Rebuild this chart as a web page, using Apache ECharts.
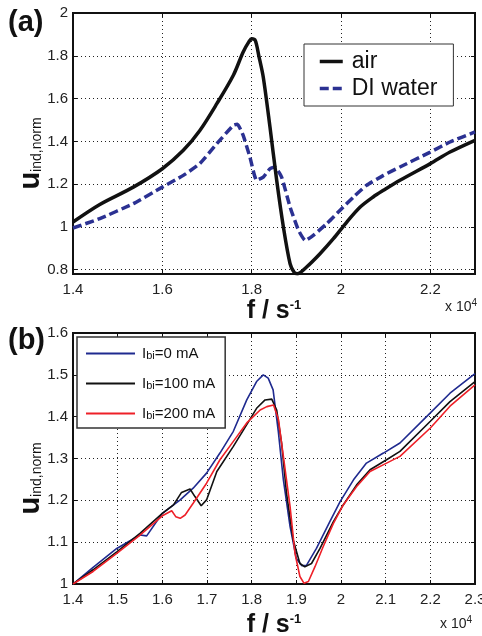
<!DOCTYPE html>
<html><head><meta charset="utf-8">
<script src="https://cdn.jsdelivr.net/npm/echarts@6/dist/echarts.min.js"></script>
<style>html,body{margin:0;padding:0;background:#fff}#c{width:482px;height:636px}</style>
</head><body><div id="c"></div>
<script>
// ---- Panel (a) data: f in units of 1e4 s^-1 ----
const airF = [1.40,1.46,1.535,1.60,1.647,1.684,1.722,1.759,1.781,1.794,1.80,1.808,1.816,1.826,1.841,1.856,1.871,1.886,1.895,1.902,1.923,1.953,1.983,2.013,2.043,2.072,2.095,2.132,2.20,2.244,2.30];
const airU = [1.023,1.105,1.186,1.272,1.358,1.451,1.576,1.709,1.818,1.866,1.880,1.872,1.80,1.70,1.467,1.218,1.00,0.828,0.788,0.781,0.813,0.875,0.945,1.023,1.093,1.140,1.171,1.218,1.296,1.350,1.405];
const waterF = [1.40,1.46,1.535,1.60,1.647,1.684,1.722,1.759,1.768,1.781,1.796,1.811,1.826,1.841,1.852,1.867,1.886,1.905,1.920,1.938,1.968,1.998,2.028,2.057,2.095,2.132,2.20,2.244,2.30];
const waterU = [0.995,1.039,1.109,1.186,1.241,1.296,1.389,1.475,1.480,1.428,1.327,1.218,1.233,1.272,1.280,1.233,1.093,0.984,0.937,0.961,1.015,1.078,1.140,1.194,1.241,1.280,1.350,1.397,1.444];
const seriesA = ['air','DI water'];

// ---- Panel (b) data ----
const currents = [0,100,200];
const f0 = [1.40,1.445,1.498,1.55,1.565,1.60,1.64,1.669,1.699,1.729,1.759,1.789,1.811,1.826,1.837,1.848,1.86,1.871,1.886,1.90,1.912,1.923,1.945,1.975,1.998,2.028,2.057,2.095,2.132,2.20,2.244,2.30];
const u0 = [1.000,1.040,1.085,1.117,1.115,1.169,1.201,1.229,1.265,1.313,1.365,1.440,1.484,1.500,1.492,1.464,1.361,1.249,1.137,1.061,1.044,1.045,1.085,1.149,1.197,1.249,1.289,1.313,1.337,1.409,1.456,1.503];
const f100 = [1.40,1.445,1.498,1.55,1.60,1.625,1.643,1.662,1.673,1.687,1.699,1.722,1.759,1.789,1.811,1.830,1.845,1.856,1.867,1.878,1.893,1.908,1.919,1.934,1.953,1.983,2.005,2.035,2.065,2.102,2.132,2.20,2.244,2.30];
const u100 = [1.000,1.034,1.077,1.121,1.169,1.189,1.219,1.227,1.209,1.187,1.201,1.269,1.329,1.381,1.420,1.440,1.442,1.416,1.337,1.217,1.105,1.049,1.041,1.049,1.085,1.149,1.189,1.237,1.273,1.297,1.317,1.389,1.436,1.484];
const f200 = [1.40,1.445,1.498,1.55,1.60,1.621,1.63,1.64,1.651,1.669,1.699,1.729,1.759,1.789,1.819,1.834,1.849,1.86,1.871,1.886,1.897,1.908,1.917,1.927,1.942,1.96,1.983,2.005,2.035,2.065,2.102,2.132,2.20,2.244,2.30];
const u200 = [1.000,1.030,1.073,1.117,1.163,1.175,1.161,1.157,1.165,1.193,1.241,1.297,1.341,1.385,1.416,1.424,1.428,1.393,1.305,1.185,1.073,1.018,1.002,1.006,1.042,1.089,1.145,1.189,1.233,1.269,1.289,1.305,1.373,1.425,1.476];

// ---- tick labels ----
const xTicksA = [1.4,1.6,1.8,2,2.2];
const yTicksA = [0.8,1,1.2,1.4,1.6,1.8,2];
const xTicksB = [1.4,1.5,1.6,1.7,1.8,1.9,2,2.1,2.2,2.3];
const yTicksB = [1,1.1,1.2,1.3,1.4,1.5,1.6];

const FONT = 'Liberation Sans, Arial, Helvetica, sans-serif';
const zip = (a,b) => a.map((v,i)=>[v,b[i]]);
const inList = (list) => (v) => list.some(t => Math.abs(t - v) < 1e-6) ? String(+v.toFixed(2)) : '';
const namesB = currents.map(c => 'Ibi=' + c + ' mA');

function yName(shift) {
  return {
    name: '{u|u}{s|ind,norm}',
    nameLocation: 'middle',
    nameRotate: 90,
    nameMoveOverlap: false,
    nameTextStyle: {
      padding: [0, shift, 0, 0],
      rich: {
        u: {fontFamily: FONT, fontSize: 29, fontWeight: 'bold', color: '#111', lineHeight: 28, verticalAlign: 'top'},
        s: {fontFamily: FONT, fontSize: 14, color: '#111', lineHeight: 14, verticalAlign: 'bottom', padding: [20,0,0,0]}
      }
    }
  };
}
const xName = {
  name: '{f|f / s}{p|-1}',
  nameLocation: 'middle',
  nameMoveOverlap: false,
  nameTextStyle: {
    rich: {
      f: {fontFamily: FONT, fontSize: 25, fontWeight: 'bold', color: '#111', lineHeight: 24},
      p: {fontFamily: FONT, fontSize: 13, fontWeight: 'bold', color: '#111', lineHeight: 13, verticalAlign: 'top'}
    }
  }
};
const axisLine = {show: true, lineStyle: {color: '#111', width: 2}};
const tick = {show: true, inside: true, length: 4, lineStyle: {color: '#111', width: 1}};
const split = {show: true, lineStyle: {color: '#222', width: 1, type: [1,3]}};
const label = {color: '#222', fontFamily: FONT, fontSize: 15};

function mainX(grid, min, max, interval, ticks, gap) {
  return Object.assign({type:'value', gridIndex: grid, min, max, interval, position:'bottom',
    axisLine, axisTick: tick, splitLine: split,
    axisLabel: Object.assign({}, label, {margin: 8, formatter: inList(ticks), showMaxLabel: true}),
    nameGap: gap}, xName);
}
function sideX(grid, min, max, interval) {
  return {type:'value', gridIndex: grid, min, max, interval, position:'top',
    axisLine, axisTick: tick, splitLine: {show:false}, axisLabel: {show:false}};
}
function mainY(grid, min, max, interval, ticks, gap, shift) {
  const o = {type:'value', gridIndex: grid, min, max, position:'left',
    axisLine, axisTick: tick, splitLine: split,
    axisLabel: Object.assign({}, label, {margin: 5, formatter: inList(ticks)}),
    nameGap: gap};
  if (interval) o.interval = interval; else o.splitNumber = 6;
  return Object.assign(o, yName(shift));
}
function sideY(grid, min, max, interval) {
  const o = {type:'value', gridIndex: grid, min, max, position:'right',
    axisLine, axisTick: tick, splitLine: {show:false}, axisLabel: {show:false}};
  if (interval) o.interval = interval; else o.splitNumber = 6;
  return o;
}

const chart = echarts.init(document.getElementById('c'), null, {renderer:'canvas'});
chart.setOption({
  backgroundColor: '#fff',
  animation: false,
  textStyle: {fontFamily: FONT},
  grid: [
    {left: 73, right: 7, top: 13, height: 261, show: true, borderColor: '#111', borderWidth: 2, outerBoundsMode: 'none', containLabel: false},
    {left: 73, right: 7, top: 333, height: 251, show: true, borderColor: '#111', borderWidth: 2, outerBoundsMode: 'none', containLabel: false}
  ],
  xAxis: [
    mainX(0, 1.4, 2.3, 0.2, xTicksA, 25),
    sideX(0, 1.4, 2.3, 0.2),
    mainX(1, 1.4, 2.3, 0.1, xTicksB, 29),
    sideX(1, 1.4, 2.3, 0.1)
  ],
  yAxis: [
    mainY(0, 0.78, 2, null, yTicksA, 29, 20),
    sideY(0, 0.78, 2, null),
    mainY(1, 1, 1.6, 0.1, yTicksB, 29, 40),
    sideY(1, 1, 1.6, 0.1)
  ],
  legend: [
    {data: seriesA, orient: 'vertical', left: 304, top: 44, padding: [6, 16, 6, 14],
     itemWidth: 23, itemHeight: 14, itemGap: 4, borderColor: '#333', borderWidth: 1, backgroundColor: '#fff',
     itemStyle: {opacity: 0}, lineStyle: {width: 3.5},
     textStyle: {fontFamily: FONT, fontSize: 23, color: '#111', padding: [0,0,0,4]}},
    {data: namesB, orient: 'vertical', left: 77, top: 337, padding: [5, 10, 7, 8],
     itemWidth: 49, itemHeight: 14, itemGap: 11, borderColor: '#333', borderWidth: 1.5, backgroundColor: '#fff',
     itemStyle: {opacity: 0}, lineStyle: {width: 2},
     formatter: n => 'I{sub|bi}' + n.slice(3),
     textStyle: {fontFamily: FONT, fontSize: 15, color: '#111', padding: [0,0,0,2],
       rich: {sub: {fontFamily: FONT, fontSize: 11, color: '#111', verticalAlign: 'bottom', lineHeight: 11, padding: [8,0,0,0]}}}}
  ],
  series: [
    {name: 'air', type: 'line', xAxisIndex: 0, yAxisIndex: 0, data: zip(airF, airU), symbol: 'none', smooth: 0.3,
     lineStyle: {color: '#111', width: 3.5}, itemStyle: {color: '#111'}, z: 3},
    {name: 'DI water', type: 'line', xAxisIndex: 0, yAxisIndex: 0, data: zip(waterF, waterU), symbol: 'none', smooth: 0.15,
     lineStyle: {color: '#2b3192', width: 3.5, type: [9,4]}, itemStyle: {color: '#2b3192'}, z: 2},
    {name: namesB[0], type: 'line', xAxisIndex: 2, yAxisIndex: 2, data: zip(f0, u0), symbol: 'none',
     lineStyle: {color: '#1f2a8f', width: 1.6}, itemStyle: {color: '#1f2a8f'}},
    {name: namesB[1], type: 'line', xAxisIndex: 2, yAxisIndex: 2, data: zip(f100, u100), symbol: 'none',
     lineStyle: {color: '#111', width: 1.6}, itemStyle: {color: '#111'}},
    {name: namesB[2], type: 'line', xAxisIndex: 2, yAxisIndex: 2, data: zip(f200, u200), symbol: 'none',
     lineStyle: {color: '#ee2028', width: 1.6}, itemStyle: {color: '#ee2028'}}
  ],
  graphic: [
    {type: 'text', left: 8, top: 8, style: {text: '(a)', font: 'bold 29px ' + FONT, fill: '#111'}},
    {type: 'text', left: 8, top: 326, style: {text: '(b)', font: 'bold 29px ' + FONT, fill: '#111'}},
    {type: 'text', left: 445, top: 298, style: {text: '{a|x 10}{b|4}', rich: {
      a: {fontFamily: FONT, fontSize: 14, fill: '#222', lineHeight: 16, verticalAlign: 'bottom'},
      b: {fontFamily: FONT, fontSize: 10, fill: '#222', lineHeight: 10, verticalAlign: 'top'}}}},
    {type: 'text', left: 440, top: 615, style: {text: '{a|x 10}{b|4}', rich: {
      a: {fontFamily: FONT, fontSize: 14, fill: '#222', lineHeight: 16, verticalAlign: 'bottom'},
      b: {fontFamily: FONT, fontSize: 10, fill: '#222', lineHeight: 10, verticalAlign: 'top'}}}}
  ]
});
</script></body></html>
